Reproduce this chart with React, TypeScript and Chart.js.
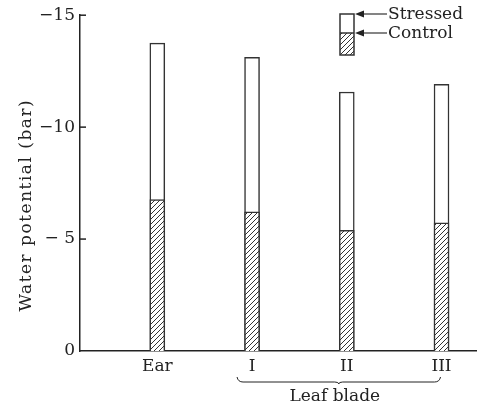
import React, { useEffect, useRef } from 'react';
import { Chart, registerables } from 'chart.js';
Chart.register(...registerables);

const categories = ['Ear', 'I', 'II', 'III'];
const stressed = [-13.75, -13.12, -11.57, -11.91];
const control = [-6.76, -6.22, -5.39, -5.72];
const yTickValues = [0, -5, -10, -15];
const yTickLabels = ['0', '− 5', '−10', '−15'];
const groupLabel = 'Leaf blade';
const groupFirst = 1;
const groupLast = 3;
const legendLabels = ['Stressed', 'Control'];
const yTitle = 'Water potential (bar)';

const FONT = '"DejaVu Serif", "Liberation Serif", serif';
const INK = '#222';

function makeHatch(): CanvasPattern | string {
  const c = document.createElement('canvas');
  c.width = 5;
  c.height = 5;
  const g = c.getContext('2d');
  if (!g) return '#888';
  g.fillStyle = '#fff';
  g.fillRect(0, 0, 5, 5);
  g.strokeStyle = '#333';
  g.lineWidth = 1;
  g.beginPath();
  g.moveTo(-1, 6); g.lineTo(6, -1);
  g.moveTo(-1, 1); g.lineTo(1, -1);
  g.moveTo(4, 6); g.lineTo(6, 4);
  g.stroke();
  const p = g.createPattern(c, 'repeat');
  return p || '#888';
}

export default function App() {
  const ref = useRef<HTMLCanvasElement | null>(null);
  useEffect(() => {
    if (!ref.current) return;
    const hatch = makeHatch();
    const decor = {
      id: 'decor',
      afterDraw(chart: any) {
        const ctx = chart.ctx as CanvasRenderingContext2D;
        const xs = chart.scales.x;
        const ys = chart.scales.y;
        const area = chart.chartArea;
        ctx.save();
        // inward y tick marks
        ctx.strokeStyle = INK;
        ctx.lineWidth = 1.5;
        yTickValues.forEach((v) => {
          if (v === 0) return;
          const y = ys.getPixelForValue(v);
          ctx.beginPath();
          ctx.moveTo(area.left, y);
          ctx.lineTo(area.left + 6, y);
          ctx.stroke();
        });
        // x category labels
        ctx.fillStyle = INK;
        ctx.font = `17px ${FONT}`;
        ctx.textAlign = 'center';
        ctx.textBaseline = 'middle';
        categories.forEach((c, i) => {
          ctx.fillText(c, xs.getPixelForValue(i + 1), area.bottom + 16);
        });
        // brace
        const bx0 = xs.getPixelForValue(groupFirst + 1) - 15;
        const bx1 = xs.getPixelForValue(groupLast + 1) - 1;
        const by = area.bottom + 31;
        const bm = (bx0 + bx1) / 2;
        ctx.lineWidth = 1;
        ctx.beginPath();
        ctx.moveTo(bx0, by - 5);
        ctx.quadraticCurveTo(bx0 + 1, by, bx0 + 6, by);
        ctx.lineTo(bm - 4, by);
        ctx.quadraticCurveTo(bm, by, bm, by + 2);
        ctx.quadraticCurveTo(bm, by, bm + 4, by);
        ctx.lineTo(bx1 - 6, by);
        ctx.quadraticCurveTo(bx1 - 1, by, bx1, by - 5);
        ctx.stroke();
        ctx.fillText(groupLabel, bm - 4, area.bottom + 46);
        // y title
        ctx.save();
        ctx.translate(27, (area.top + area.bottom) / 2 + 22);
        ctx.rotate(-Math.PI / 2);
        ctx.font = `17px ${FONT}`;
        (ctx as any).letterSpacing = '1.5px';
        ctx.fillText(yTitle, 0, 0);
        ctx.restore();
        // legend
        const lx = 340, lw = 14, lt = 14, lm = 33, lb = 55;
        ctx.fillStyle = '#fff';
        ctx.fillRect(lx, lt, lw, lm - lt);
        ctx.fillStyle = hatch as any;
        ctx.fillRect(lx, lm, lw, lb - lm);
        ctx.strokeStyle = '#333';
        ctx.lineWidth = 1.5;
        ctx.strokeRect(lx, lt, lw, lb - lt);
        ctx.beginPath();
        ctx.moveTo(lx, lm); ctx.lineTo(lx + lw, lm);
        ctx.stroke();
        ctx.fillStyle = INK;
        ctx.textAlign = 'left';
        [lt, lm].forEach((yy, k) => {
          ctx.lineWidth = 1.2;
          ctx.beginPath();
          ctx.moveTo(lx + lw + 8, yy);
          ctx.lineTo(lx + lw + 33, yy);
          ctx.stroke();
          ctx.beginPath();
          ctx.moveTo(lx + lw + 1, yy);
          ctx.lineTo(lx + lw + 10, yy - 3.5);
          ctx.lineTo(lx + lw + 10, yy + 3.5);
          ctx.closePath();
          ctx.fill();
          ctx.fillText(legendLabels[k], lx + lw + 34, yy + 1);
        });
        ctx.restore();
      },
    };
    const chart = new Chart(ref.current, {
      type: 'bar',
      data: {
        datasets: [
          {
            label: 'Control',
            data: categories.map((_, i) => ({ x: i + 1, y: control[i] })),
            backgroundColor: hatch as any,
            borderColor: '#333',
            borderWidth: 1.5,
            barThickness: 15,
            grouped: false,
          } as any,
          {
            label: 'Stressed',
            data: categories.map((_, i) => ({ x: i + 1, y: stressed[i] })),
            backgroundColor: '#fff',
            borderColor: '#333',
            borderWidth: 1.5,
            barThickness: 15,
            grouped: false,
          } as any,
        ],
      },
      options: {
        responsive: false,
        animation: false,
        layout: { padding: { top: 13, right: 3, left: 0, bottom: 0 } },
        plugins: { legend: { display: false }, tooltip: { enabled: false } },
        scales: {
          x: {
            type: 'linear',
            min: 0.184,
            max: 4.364,
            offset: false,
            grid: { display: false, offset: false },
            border: { display: true, color: INK, width: 1.5 },
            ticks: { display: false },
            afterFit: (s: any) => { s.height = 56; },
          },
          y: {
            min: -15,
            max: 0,
            reverse: true,
            grid: { display: false, drawTicks: false },
            border: { display: true, color: INK, width: 1.5 },
            afterBuildTicks: (s: any) => { s.ticks = yTickValues.map((v) => ({ value: v })); },
            ticks: {
              padding: 5,
              color: INK,
              font: { family: FONT, size: 17 },
              callback: (v: any) => yTickLabels[yTickValues.indexOf(Number(v))] ?? '',
            },
            afterFit: (s: any) => { s.width = 80; },
          },
        },
      },
      plugins: [decor],
    });
    return () => chart.destroy();
  }, []);
  return (
    <div style={{ position: 'absolute', left: 0, top: 0, width: 479, height: 407, background: '#fff' }}>
      <canvas ref={ref} width={479} height={407} />
    </div>
  );
}
